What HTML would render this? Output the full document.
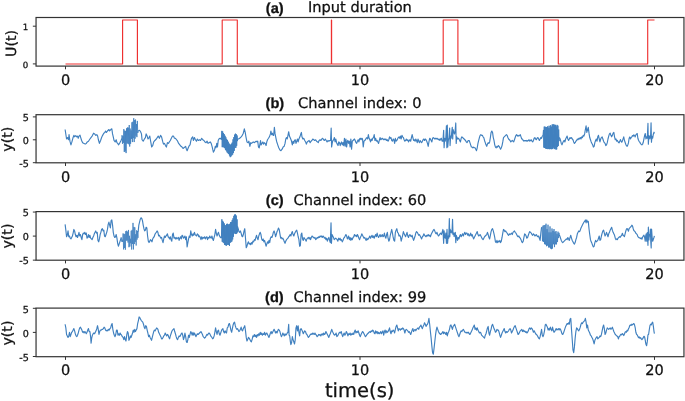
<!DOCTYPE html>
<html><head><meta charset="utf-8"><title>figure</title>
<style>html,body{margin:0;padding:0;background:#fff;}svg{display:block;}text{stroke:#111;stroke-width:0.28px;text-rendering:geometricPrecision;}</style>
</head><body>
<svg width="685" height="401" viewBox="0 0 685 401" font-family="'DejaVu Sans', 'Liberation Sans', sans-serif" fill="#111"><clipPath id="clipa"><rect x="36.05" y="17.5" width="647.9" height="48.6"/></clipPath>
<polyline clip-path="url(#clipa)" points="65.50,63.95 122.60,63.95 122.60,20.00 137.40,20.00 137.40,63.95 222.20,63.95 222.20,20.00 237.30,20.00 237.30,63.95 331.40,63.95 331.40,20.00 331.60,20.00 331.60,63.95 443.20,63.95 443.20,20.00 457.90,20.00 457.90,63.95 543.70,63.95 543.70,20.00 558.30,20.00 558.30,63.95 647.70,63.95 647.70,20.00 654.50,20.00" fill="none" stroke="#ee3030" stroke-width="1.15" stroke-linejoin="round"/>
<rect x="36.05" y="17.5" width="647.9" height="48.6" fill="none" stroke="#333" stroke-width="1.2"/>
<line x1="65.5" y1="66.1" x2="65.5" y2="69.3" stroke="#333" stroke-width="1"/>
<text x="65.5" y="84.8" font-size="14.5" font-family="'DejaVu Sans', sans-serif" text-anchor="middle">0</text>
<line x1="360" y1="66.1" x2="360" y2="69.3" stroke="#333" stroke-width="1"/>
<text x="360" y="84.8" font-size="14.5" font-family="'DejaVu Sans', sans-serif" text-anchor="middle">10</text>
<line x1="654.5" y1="66.1" x2="654.5" y2="69.3" stroke="#333" stroke-width="1"/>
<text x="654.5" y="84.8" font-size="14.5" font-family="'DejaVu Sans', sans-serif" text-anchor="middle">20</text>
<line x1="32.85" y1="63.9" x2="36.05" y2="63.9" stroke="#333" stroke-width="1"/>
<text x="28.3" y="67.74" font-size="8.6" text-anchor="end">0</text>
<line x1="32.85" y1="26.2" x2="36.05" y2="26.2" stroke="#333" stroke-width="1"/>
<text x="28.3" y="30.04" font-size="8.6" text-anchor="end">1</text>
<text transform="translate(15.8,43.45) rotate(-90)" font-size="14.2" text-anchor="middle">U(t)</text>
<text x="265.8" y="12.8" font-size="14.6" font-weight="bold" font-family="Liberation Sans, sans-serif">(a)</text>
<text x="308" y="11.7" font-size="14.6">Input duration</text>
<clipPath id="clipb"><rect x="36.05" y="114.7" width="647.9" height="48.1"/></clipPath>
<polyline clip-path="url(#clipb)" points="65.11,129.52 66.57,139.01 67.59,137.55 68.47,139.74 69.05,134.63 69.93,141.20 70.95,144.85 71.68,142.66 72.85,138.28 73.87,135.36 74.60,136.82 75.77,135.65 76.79,136.82 77.52,136.09 78.25,138.28 78.98,136.09 80.00,135.07 80.73,137.55 81.61,140.47 82.63,142.66 84.09,143.39 85.11,144.12 86.28,143.39 87.30,141.93 88.47,141.20 89.93,139.01 90.95,137.55 92.12,136.09 93.58,133.17 94.60,133.90 95.77,135.36 96.79,134.63 97.66,136.09 98.39,139.74 99.42,143.39 100.58,140.47 101.61,137.55 102.63,135.36 103.80,133.17 104.82,132.44 105.55,130.98 106.42,132.44 107.45,130.98 108.91,129.52 109.64,130.98 110.80,129.52 111.82,128.79 112.55,133.90 113.28,136.82 114.01,140.47 115.18,141.93 116.20,139.74 116.93,142.66 117.66,143.39 118.69,144.85 119.85,142.66 121.02,140.47 122.04,138.28" fill="none" stroke="#4080bf" stroke-width="1.15" stroke-linejoin="round"/>
<polyline clip-path="url(#clipb)" points="138.10,130.98 139.56,130.25 140.58,131.71 141.46,133.90 142.04,139.74 143.21,141.20 144.38,139.01 145.40,137.55 146.13,133.90 147.15,136.09 148.03,139.01 149.05,137.55 149.78,136.09 150.51,140.47 151.68,147.04 152.70,145.58 153.72,141.93 154.89,140.47 156.35,139.01 158.21,136.09 159.38,138.28 160.55,135.36 161.57,136.82 162.59,141.20 163.47,144.12 164.49,143.39 165.51,145.58 166.39,147.04 167.41,142.66 168.43,143.39 169.31,141.93 170.33,140.47 171.35,138.28 172.52,136.09 173.54,136.09 174.42,138.28 175.44,138.28 176.61,139.74 177.63,141.20 178.65,143.39 179.82,144.85 180.99,146.31 182.01,147.04 183.03,148.50 183.91,147.77 184.93,147.04 185.66,146.31 186.39,149.23 187.12,150.69 188.28,147.77 189.31,145.58 190.04,144.85 190.77,141.20 191.50,138.28 192.66,136.82 193.39,140.47 194.42,137.55 195.44,139.74 196.46,141.20 197.34,139.01 198.36,140.47 199.53,139.74 200.55,140.47 201.72,138.28 202.74,139.74 203.91,140.47 204.93,141.93 206.09,142.66 207.12,141.20 207.99,143.39 209.01,142.66 210.18,141.93 211.20,143.39 212.23,147.04 213.39,152.15 214.56,149.96 215.29,146.31 216.02,147.77 216.75,143.39 217.48,147.04 218.21,140.47 218.94,139.01 219.96,138.28 220.69,138.28 221.42,139.74" fill="none" stroke="#4080bf" stroke-width="1.15" stroke-linejoin="round"/>
<polyline clip-path="url(#clipb)" points="237.48,139.01 238.50,139.01 239.67,138.28 241.13,136.82 242.30,135.36 243.32,133.17 244.34,128.79 245.22,132.44 245.95,136.82 246.97,141.93 248.14,142.66 248.87,141.20 249.89,146.31 250.77,142.66 251.64,143.39 253.21,141.93 254.09,142.66 255.11,141.93 256.13,141.20 257.01,141.93 257.74,141.20 258.47,147.04 259.20,147.77 259.93,144.12 260.51,140.47 261.09,144.85 261.97,143.39 262.85,141.93 263.58,144.12 264.31,142.66 265.18,143.39 266.06,145.58 266.79,141.93 267.52,139.74 268.54,138.28 269.42,136.82 270.44,133.90 270.88,130.98 271.61,134.63 272.34,133.17 273.07,135.36 273.65,135.36 274.38,127.33 275.11,133.90 275.84,137.55 276.57,141.20 277.74,144.85 278.76,147.77 279.93,149.96 280.95,150.69 282.12,149.23 283.14,147.04 284.16,146.31 285.04,143.39 285.77,139.01 286.50,137.55 287.23,139.01 287.96,135.36 288.69,131.71 289.42,136.09 290.44,138.28 291.31,140.47 292.34,144.85 293.07,141.20 293.80,143.39 294.53,140.47 295.26,139.74 295.99,143.39 296.72,141.20 297.45,139.01 298.18,141.93 298.91,139.01 299.93,136.82 300.80,133.90 301.39,132.44 301.97,136.82 302.85,139.01 303.72,138.28 304.74,140.47 305.62,141.93 306.35,144.12 307.23,141.93 308.10,141.20 309.12,140.47 310.15,142.66 311.02,141.20 311.90,140.47 312.77,139.01 313.80,139.74 314.67,140.47 315.69,139.74 316.57,141.20 317.59,141.93 318.32,142.66 319.05,140.47 320.07,139.74 320.95,140.47 321.82,139.01 322.70,138.28 323.58,139.74 324.45,140.47 325.33,139.01 326.20,140.47 327.08,141.93 327.96,140.47 328.83,141.20 329.71,140.47 330.58,140.47 331.17,128.06 331.61,147.04 332.19,143.39 332.92,140.47 333.65,139.74 334.38,137.55 335.11,141.93 335.84,139.01 336.57,142.66 337.30,144.12 338.03,145.58 338.76,141.93 339.49,142.66 340.22,145.58 340.80,143.39 341.53,141.93 342.26,144.85 342.99,142.66 343.72,145.58 344.45,138.28 345.18,146.31 345.91,139.01 346.64,147.04 347.37,141.20 347.92,140.47 348.65,143.39 349.38,141.20 350.11,147.04 350.84,139.01 351.57,149.23 352.30,141.20 353.03,140.47 353.76,139.74 354.49,139.01 355.22,140.47 355.95,142.66 356.68,143.39 357.41,141.20 358.14,139.74 358.87,141.93 359.60,139.01 360.33,138.28 361.06,139.74 361.79,138.28 362.52,139.01 363.25,147.04 363.98,141.20 364.71,140.47 365.44,139.74 366.17,138.28 366.90,137.55 367.63,139.01 368.36,134.63 369.09,138.28 369.82,139.74 370.55,141.93 371.28,139.01 372.01,140.47 372.74,138.28 373.47,137.55 374.20,134.63 374.93,140.47 375.66,138.28 376.39,141.20 377.12,140.47 377.85,141.93 378.58,143.39 379.31,140.47 380.04,137.55 380.77,139.74 381.50,139.01 382.23,138.28 382.96,139.01 383.69,139.74 384.42,139.01 385.15,139.74 385.88,139.01 386.61,140.47 387.34,139.74 388.07,141.20 388.80,139.74 389.53,136.82 390.26,138.28 390.99,137.55 391.72,140.47 392.45,141.20 393.18,139.01 393.91,139.74 394.64,143.39 395.36,138.28 396.09,141.20 396.82,140.47 397.55,139.01 398.28,137.55 399.01,136.82 399.74,138.28 400.47,136.09 401.20,139.01 401.93,135.36 402.66,136.82 403.39,137.55 404.12,139.74 404.85,141.20 405.58,140.47 406.31,139.01 407.04,140.47 407.77,139.74 408.50,141.93 409.23,140.47 409.96,139.74 410.69,141.20 411.42,137.55 412.15,134.63 412.88,137.55 413.61,140.47 414.34,139.74 415.07,141.20 415.80,139.01 416.53,140.47 417.26,142.66 417.99,139.01 418.72,141.20 419.45,142.66 420.18,140.47 420.91,141.93 421.64,142.66 422.37,141.20 423.10,139.74 423.83,139.01 424.56,140.47 425.29,139.01 426.02,139.74 426.75,141.20 427.48,143.39 428.21,146.31 428.94,141.93 429.67,138.28 430.40,139.01 431.13,140.47 431.86,141.93 432.59,138.28 433.32,137.55 434.05,138.28 434.78,139.01 435.51,138.28 436.24,139.01 436.97,138.28 437.70,139.01 438.43,139.74 439.16,139.01 439.89,140.47 440.62,139.01 441.35,138.28 442.08,141.20 442.92,141.20 443.65,130.25 444.09,147.77 444.67,138.28 445.26,141.20 445.84,137.55 446.42,125.87 446.86,147.77 447.30,125.14 447.74,147.04 448.32,140.47 449.05,137.55 449.64,128.06 450.07,145.58 450.66,136.09 451.24,138.28 451.68,132.44 452.26,127.33 452.70,139.01 453.14,129.52 453.87,132.44 454.60,133.90 455.18,130.25 455.77,122.95 456.20,143.39 456.79,136.82 457.52,139.01 458.25,138.28 458.98,139.01 459.71,140.47 460.44,141.93 461.17,138.28 461.90,136.82 462.63,137.55 463.36,138.28 464.09,139.01 464.82,139.74 465.55,140.47 466.28,141.93 467.01,142.66 467.74,141.20 468.47,140.47 469.20,140.47 469.93,142.66 470.66,144.85 471.39,147.04 472.12,147.04 472.85,147.77 473.58,147.04 474.31,147.77 475.04,147.77 475.77,149.23 476.50,150.69 477.23,147.77 477.96,143.39 478.69,140.47 479.42,137.55 480.15,135.36 480.88,134.63 481.61,135.36 482.34,135.36 483.07,136.82 483.80,137.55 484.53,140.47 485.26,142.66 485.99,144.85 486.72,146.31 487.45,144.12 488.18,142.66 488.91,143.39 489.64,141.93 490.36,137.55 491.09,132.44 491.82,130.98 492.55,132.44 493.28,137.55 494.01,140.47 494.74,144.85 495.47,147.04 496.20,147.77 496.93,146.31 497.66,147.04 498.39,145.58 499.12,146.31 499.85,147.77 500.58,149.23 501.31,147.77 502.04,145.58 502.77,141.93 503.50,137.55 504.23,136.82 504.96,136.09 505.69,135.36 506.42,134.63 507.15,135.36 507.88,137.55 508.61,139.01 509.34,139.74 510.07,140.47 510.80,141.93 511.53,141.20 512.26,140.47 512.99,141.20 513.72,141.93 514.45,139.74 515.18,137.55 515.91,135.36 516.64,134.63 517.37,136.09 518.10,135.36 518.83,136.09 519.56,135.36 520.29,134.63 521.02,136.82 521.75,139.01 522.48,139.01 523.21,140.47 523.94,141.20 524.67,140.47 525.40,140.47 526.13,141.20 526.86,140.47 527.59,141.20 528.32,140.47 529.05,139.74 529.78,141.20 530.51,140.47 531.24,139.74 531.97,141.20 532.70,141.93 533.43,140.47 534.16,138.28 534.89,137.55 535.62,139.01 536.35,139.74 537.08,138.28 537.92,137.55 538.65,139.01 539.38,140.47 540.11,139.01 540.84,137.55 541.57,138.28 542.30,136.09 543.03,135.36" fill="none" stroke="#4080bf" stroke-width="1.15" stroke-linejoin="round"/>
<polyline clip-path="url(#clipb)" points="559.09,137.55 559.82,138.28 560.55,140.47 561.28,143.39 562.01,144.85 562.74,142.66 563.47,141.20 564.20,140.47 564.93,141.93 565.66,139.01 566.39,137.55 567.12,136.09 567.85,139.01 568.58,140.47 569.31,139.01 570.04,137.55 570.77,138.28 571.50,137.55 572.23,139.01 572.96,139.74 573.69,141.93 574.42,143.39 575.15,142.66 575.88,141.20 576.61,140.47 577.34,139.01 578.07,139.74 578.80,138.28 579.53,139.01 580.26,137.55 580.99,139.01 581.72,136.82 582.45,137.55 583.18,135.36 583.91,136.09 584.64,133.90 585.36,129.52 586.09,125.87 586.82,132.44 587.55,129.52 588.28,127.33 589.01,133.17 589.74,137.55 590.47,139.74 591.20,141.93 591.93,143.39 592.66,144.85 593.39,147.04 594.12,146.31 594.85,142.66 595.58,140.47 596.31,139.01 597.04,141.20 597.77,136.82 598.50,135.36 599.23,139.01 599.96,141.93 600.69,139.01 601.42,137.55 602.15,136.82 602.88,139.01 603.61,141.20 604.34,142.66 605.07,143.39 605.80,145.58 606.53,144.85 607.26,142.66 607.99,139.01 608.72,136.09 609.45,133.90 610.18,133.17 610.91,135.36 611.64,136.82 612.37,135.36 613.10,133.17 613.83,132.44 614.56,136.82 615.29,139.74 616.02,139.01 616.75,141.20 617.48,140.47 617.69,140.93 618.36,142.27 619.04,142.94 619.71,141.60 620.38,139.58 621.05,140.93 621.73,142.27 622.40,140.93 623.07,138.91 623.74,136.89 624.42,140.25 625.09,142.27 625.76,144.29 626.44,145.63 627.11,146.31 627.78,144.96 628.45,142.94 629.13,138.23 629.80,136.89 630.47,138.91 631.14,137.56 631.82,136.89 632.49,135.54 633.16,136.22 633.83,134.87 634.51,135.54 635.18,136.89 635.85,134.87 636.53,134.20 637.20,133.53 637.87,138.23 638.54,140.25 639.22,141.60 639.89,142.27 640.56,143.62 641.23,144.29 641.91,144.96 642.58,144.29 643.25,142.27 643.93,138.91 644.60,135.54 645.27,133.53 645.94,138.91 646.62,136.89 647.29,138.23 647.96,123.44 648.36,144.29 648.90,135.54 649.58,136.89 649.98,138.91 650.65,134.87 651.06,122.76 651.46,142.27 652.00,136.22 652.67,138.23 653.34,134.20 654.02,132.18 654.42,133.53" fill="none" stroke="#4080bf" stroke-width="1.15" stroke-linejoin="round"/>
<polyline clip-path="url(#clipb)" points="122.04,138.28 122.04,135.22 122.49,143.81 122.94,136.13 123.39,142.80 123.84,129.14 124.29,151.92 124.74,130.61 125.19,151.40 125.64,130.94 126.09,153.08 126.54,128.31 126.99,143.59 127.44,127.48 127.89,143.41 128.34,127.67 128.79,144.24 129.24,125.02 129.69,146.52 130.14,128.54 130.59,143.78 131.04,130.39 131.49,138.89 131.94,122.33 132.39,142.05 132.84,121.74 133.29,138.13 133.74,118.21 134.19,142.05 134.64,120.09 135.09,138.69 135.54,119.57 135.99,135.73 136.44,124.05 136.89,137.15 137.34,120.92 137.79,133.01 138.10,130.98" fill="none" stroke="#4080bf" stroke-width="0.85" stroke-linejoin="round"/>
<polyline clip-path="url(#clipb)" points="221.42,139.74 221.86,130.88 222.26,147.20 222.66,131.46 223.06,147.06 223.46,133.05 223.86,147.44 224.26,134.20 224.66,148.16 225.06,135.77 225.46,149.89 225.86,137.35 226.26,150.69 226.66,139.09 227.06,152.32 227.46,140.06 227.86,153.23 228.26,141.70 228.66,154.09 229.06,143.49 229.46,155.53 229.86,144.14 230.26,157.15 230.66,144.88 231.06,156.37 231.46,143.72 231.86,155.25 232.26,142.53 232.66,154.52 233.06,139.33 233.46,152.90 233.86,137.11 234.26,150.80 234.66,134.62 235.06,147.92 235.46,133.65 235.86,147.74 236.26,134.15 236.66,145.77 237.06,135.45 237.46,141.12 237.48,139.01" fill="none" stroke="#4080bf" stroke-width="1.0" stroke-linejoin="round"/>
<polyline clip-path="url(#clipb)" points="543.03,135.36 543.47,129.94 543.87,147.57 544.27,126.62 544.67,147.98 545.07,126.71 545.47,148.38 545.87,126.99 546.27,148.90 546.67,127.12 547.07,148.81 547.47,126.42 547.87,149.13 548.27,127.77 548.67,148.80 549.07,125.75 549.47,149.18 549.87,128.05 550.27,149.02 550.67,125.26 551.07,149.16 551.47,126.69 551.87,149.18 552.27,124.35 552.67,148.93 553.07,124.87 553.47,147.58 553.87,124.12 554.27,149.10 554.67,125.23 555.07,148.49 555.47,124.85 555.87,149.50 556.27,126.47 556.67,149.41 557.07,124.88 557.47,146.82 557.87,125.68 558.27,146.09 558.67,129.53 559.07,141.13 559.09,137.55" fill="none" stroke="#4080bf" stroke-width="1.0" stroke-linejoin="round"/>
<rect x="36.05" y="114.7" width="647.9" height="48.1" fill="none" stroke="#333" stroke-width="1.2"/>
<line x1="65.5" y1="162.8" x2="65.5" y2="166" stroke="#333" stroke-width="1"/>
<text x="65.5" y="181.5" font-size="14.5" font-family="'DejaVu Sans', sans-serif" text-anchor="middle">0</text>
<line x1="360" y1="162.8" x2="360" y2="166" stroke="#333" stroke-width="1"/>
<text x="360" y="181.5" font-size="14.5" font-family="'DejaVu Sans', sans-serif" text-anchor="middle">10</text>
<line x1="654.5" y1="162.8" x2="654.5" y2="166" stroke="#333" stroke-width="1"/>
<text x="654.5" y="181.5" font-size="14.5" font-family="'DejaVu Sans', sans-serif" text-anchor="middle">20</text>
<line x1="32.85" y1="162.7" x2="36.05" y2="162.7" stroke="#333" stroke-width="1"/>
<text x="28.8" y="166.94" font-size="9.6" text-anchor="end">-5</text>
<line x1="32.85" y1="139.8" x2="36.05" y2="139.8" stroke="#333" stroke-width="1"/>
<text x="28.8" y="144.04" font-size="9.6" text-anchor="end">0</text>
<line x1="32.85" y1="116.9" x2="36.05" y2="116.9" stroke="#333" stroke-width="1"/>
<text x="28.8" y="121.14" font-size="9.6" text-anchor="end">5</text>
<text transform="translate(12.3,139.2) rotate(-90)" font-size="14.2" text-anchor="middle">y(t)</text>
<text x="265.6" y="107.5" font-size="14.6" font-weight="bold" font-family="Liberation Sans, sans-serif">(b)</text>
<text x="298.1" y="108.1" font-size="14.6">Channel index: 0</text>
<clipPath id="clipc"><rect x="36.05" y="211.6" width="647.9" height="48.6"/></clipPath>
<polyline clip-path="url(#clipc)" points="65.11,224.33 65.84,230.17 66.57,236.74 67.30,235.28 68.03,230.90 68.76,236.74 69.49,236.01 70.22,238.20 70.95,238.93 71.68,237.47 72.41,236.01 73.14,233.09 73.87,229.44 74.60,230.90 75.33,234.55 76.06,236.74 76.79,235.28 77.52,237.47 78.25,235.28 78.98,232.36 79.71,236.01 80.44,234.55 81.17,237.47 81.90,239.66 82.63,234.55 83.36,233.09 84.09,233.82 84.82,232.36 85.55,234.55 86.28,233.09 87.01,238.20 87.74,237.47 88.47,234.55 89.20,237.47 89.93,235.28 90.66,238.20 91.39,238.93 92.12,239.66 92.85,237.47 93.58,236.01 94.31,233.82 95.04,232.36 95.77,230.90 96.50,233.09 97.23,232.36 97.96,240.39 98.69,241.85 99.42,238.93 100.15,234.55 100.88,232.36 101.61,229.44 102.34,228.71 103.07,230.90 103.80,230.17 104.53,236.01 105.26,236.74 105.99,234.55 106.72,232.36 107.45,229.44 108.18,224.33 108.91,222.14 109.64,225.06 110.36,227.98 111.09,220.68 111.82,219.95 112.55,225.06 113.28,232.36 114.01,236.01 114.74,237.47 115.47,236.74 116.20,234.55 116.93,238.20 117.66,243.31 118.39,246.23 119.12,244.04 119.85,241.85 120.58,239.66 121.31,237.47" fill="none" stroke="#4080bf" stroke-width="1.15" stroke-linejoin="round"/>
<polyline clip-path="url(#clipc)" points="138.10,232.36 138.83,225.06 139.56,222.14 140.29,219.22 141.02,217.76 141.75,218.49 142.48,220.68 143.21,225.06 143.94,228.71 144.67,230.90 145.40,230.17 146.13,227.25 146.86,227.98 147.59,236.01 148.32,241.12 149.05,242.58 149.78,241.12 150.51,239.66 151.24,240.39 151.97,241.85 152.70,238.93 153.43,237.47 154.16,236.74 154.89,234.55 155.62,233.09 156.35,232.36 157.08,230.90 157.92,232.36 158.65,236.01 159.38,235.28 160.11,236.74 160.84,238.20 161.57,237.47 162.30,240.39 163.03,242.58 163.76,238.93 164.49,236.01 165.22,237.47 165.95,236.01 166.68,235.28 167.41,233.82 168.14,236.74 168.87,237.47 169.60,238.93 170.33,236.74 171.06,239.66 171.79,241.12 172.52,234.55 173.25,233.09 173.98,238.20 174.71,237.47 175.44,238.93 176.17,237.47 176.90,238.93 177.63,238.20 178.36,237.47 179.09,240.39 179.82,238.20 180.55,236.74 181.28,238.93 182.01,235.28 182.74,236.01 183.47,238.20 184.20,237.47 184.93,236.01 185.66,239.66 186.39,236.74 187.12,246.96 187.85,242.58 188.58,238.93 189.31,236.01 190.04,237.47 190.77,230.90 191.50,234.55 192.23,236.01 192.96,233.82 193.69,235.28 194.42,232.36 195.15,234.55 195.88,235.28 196.61,236.01 197.34,233.82 198.07,234.55 198.80,236.74 199.53,236.01 200.26,237.47 200.99,239.66 201.72,236.74 202.45,238.93 203.18,237.47 203.91,238.20 204.64,236.74 205.36,238.93 206.09,237.47 206.82,236.74 207.55,239.66 208.28,237.47 209.01,238.20 209.74,236.01 210.47,237.47 211.20,238.20 211.93,236.01 212.66,238.93 213.39,240.39 214.12,237.47 214.85,234.55 215.58,229.44 216.31,233.09 217.04,236.01 217.77,233.82 218.50,232.36 219.23,235.28 219.96,236.74 220.69,237.47 221.42,238.20" fill="none" stroke="#4080bf" stroke-width="1.15" stroke-linejoin="round"/>
<polyline clip-path="url(#clipc)" points="237.48,226.52 238.21,228.71 238.94,231.63 239.67,232.36 240.40,230.90 241.13,233.09 241.86,236.01 242.59,236.74 243.32,234.55 244.05,230.90 244.78,228.71 245.51,238.20 246.24,247.69 246.97,246.23 247.70,243.31 248.43,241.85 249.16,244.04 249.89,243.31 250.62,244.77 251.35,242.58 252.08,244.04 252.92,241.12 253.65,241.85 254.38,239.66 255.11,240.39 255.84,237.47 256.57,235.28 257.30,238.20 258.03,239.66 258.76,236.01 259.49,233.82 260.22,232.36 260.95,234.55 261.68,238.93 262.41,240.39 263.14,238.93 263.87,241.85 264.60,240.39 265.33,243.31 266.06,246.23 266.79,244.04 267.52,241.85 268.25,243.31 268.98,240.39 269.71,242.58 270.44,238.20 271.17,236.74 271.90,237.47 272.63,235.28 273.36,232.36 274.09,230.90 274.82,233.09 275.55,236.74 276.28,234.55 277.01,231.63 277.74,230.17 278.47,227.98 279.20,229.44 279.93,233.82 280.66,238.20 281.39,237.47 282.12,238.93 282.85,238.20 283.58,239.66 284.31,241.85 285.04,243.31 285.77,241.12 286.50,239.66 287.23,238.93 287.96,238.20 288.69,236.74 289.42,236.01 290.15,234.55 290.88,236.01 291.61,233.09 292.34,231.63 293.07,234.55 293.80,236.01 294.53,233.82 295.26,232.36 295.99,230.90 296.72,230.17 297.45,233.09 298.18,236.74 298.91,239.66 299.64,246.23 300.36,245.50 301.09,234.55 301.82,233.09 302.55,238.93 303.28,240.39 304.01,237.47 304.74,238.93 305.47,239.66 306.20,241.12 306.93,238.93 307.66,238.20 308.39,237.47 309.12,238.93 309.85,237.47 310.58,239.66 311.31,237.47 312.04,236.01 312.77,236.74 313.50,237.47 314.23,238.20 314.96,237.47 315.69,239.66 316.42,238.93 317.15,237.47 317.88,238.20 318.61,236.74 319.34,237.47 320.07,236.01 320.80,236.74 321.53,236.01 322.26,237.47 322.99,236.01 323.72,236.74 324.45,238.20 325.18,237.47 325.91,239.66 326.64,238.20 327.37,241.12 328.10,238.93 328.83,237.47 329.56,240.39 330.29,242.58 331.02,222.87 331.46,243.31 332.04,234.55 332.77,236.01 333.50,237.47 334.23,239.66 334.96,238.93 335.69,238.20 336.42,238.93 337.15,239.66 337.88,241.12 338.61,238.20 339.34,239.66 340.07,238.20 340.80,240.39 341.53,239.66 342.26,241.85 342.99,240.39 343.72,238.20 344.45,237.47 345.18,236.01 345.91,234.55 346.64,236.01 347.37,238.93 347.92,238.20 348.65,236.01 349.38,239.66 350.11,237.47 350.84,240.39 351.57,238.20 352.30,239.66 353.03,237.47 353.76,236.74 354.49,234.55 355.22,236.01 355.95,235.28 356.68,236.74 357.41,234.55 358.14,236.01 358.87,238.20 359.60,239.66 360.33,237.47 361.06,236.01 361.79,233.82 362.52,235.28 363.25,236.74 363.98,238.20 364.71,237.47 365.44,238.93 366.17,240.39 366.90,238.20 367.63,239.66 368.36,238.93 369.09,237.47 369.82,236.01 370.55,238.20 371.28,236.74 372.01,235.28 372.74,237.47 373.47,236.01 374.20,238.20 374.93,236.01 375.66,234.55 376.39,236.74 377.12,233.09 377.85,236.01 378.58,237.47 379.31,236.01 380.04,234.55 380.77,236.74 381.50,236.01 382.23,234.55 382.96,236.74 383.69,236.01 384.42,233.09 385.15,236.74 385.88,238.20 386.61,234.55 387.34,232.36 388.07,238.20 388.80,241.12 389.53,239.66 390.26,235.28 390.99,232.36 391.72,229.44 392.45,233.09 393.18,237.47 393.91,240.39 394.64,241.12 395.36,232.36 396.09,230.17 396.82,228.71 397.55,232.36 398.28,233.09 399.01,236.01 399.74,235.28 400.47,236.74 401.20,241.12 401.93,238.20 402.66,235.28 403.39,231.63 404.12,233.82 404.85,235.28 405.58,236.74 406.31,234.55 407.04,232.36 407.77,236.01 408.50,237.47 409.23,235.28 409.96,234.55 410.69,236.01 411.42,236.74 412.15,235.28 412.88,238.20 413.61,240.39 414.34,238.20 415.07,236.01 415.80,233.09 416.53,231.63 417.26,232.36 417.99,233.82 418.72,235.28 419.45,234.55 420.18,236.01 420.91,237.47 421.64,238.93 422.37,236.74 423.10,236.01 423.83,233.82 424.56,235.28 425.29,236.01 426.02,236.74 426.75,235.28 427.48,236.01 428.21,234.55 428.94,236.01 429.67,235.28 430.40,236.74 431.13,234.55 431.86,233.09 432.59,231.63 433.32,230.17 434.05,229.44 434.78,230.90 435.51,233.09 436.24,233.82 436.97,232.36 437.70,234.55 438.43,236.01 439.16,235.28 439.89,233.82 440.62,233.09 441.35,234.55 442.08,232.36 442.92,229.44 443.65,243.31 444.09,230.90 444.67,236.74 445.26,238.20 445.84,233.09 446.42,243.31 447.01,229.44 447.59,243.31 448.18,236.01 448.76,238.20 449.34,218.49 449.78,236.74 450.22,229.44 450.80,232.36 451.39,230.90 451.97,233.09 452.55,219.22 452.99,234.55 453.58,233.09 454.16,236.74 454.74,233.09 455.33,232.36 455.77,242.58 456.35,235.28 456.93,237.47 457.52,240.39 458.25,237.47 458.98,238.93 459.71,236.01 460.44,234.55 461.17,236.74 461.90,235.28 462.63,233.82 463.36,236.01 464.09,233.82 464.82,232.36 465.55,234.55 466.28,233.09 467.01,233.09 467.74,235.28 468.47,233.82 469.20,236.01 469.93,235.28 470.66,233.09 471.39,236.01 472.12,234.55 472.85,236.74 473.58,238.93 474.31,237.47 475.04,236.01 475.77,234.55 476.50,233.09 477.23,231.63 477.96,234.55 478.69,236.01 479.42,235.28 480.15,234.55 480.88,236.01 481.61,237.47 482.34,238.93 483.07,239.66 483.80,238.20 484.53,236.74 485.26,236.01 485.99,235.28 486.72,234.55 487.45,232.36 488.18,234.55 488.91,237.47 489.64,238.93 490.36,235.28 491.09,231.63 491.82,229.44 492.55,228.71 493.28,230.90 494.01,233.82 494.74,237.47 495.47,241.85 496.20,242.58 496.93,240.39 497.66,242.58 498.39,241.12 499.12,241.85 499.85,240.39 500.58,242.58 501.31,241.12 502.04,237.47 502.77,233.09 503.50,229.44 504.23,230.17 504.96,231.63 505.69,230.90 506.42,232.36 507.15,233.09 507.88,234.55 508.61,235.28 509.34,233.82 510.07,234.55 510.80,233.82 511.53,233.09 512.26,234.55 512.99,232.36 513.72,231.63 514.45,230.90 515.18,232.36 515.91,233.09 516.64,234.55 517.37,236.01 518.10,236.74 518.83,236.01 519.56,237.47 520.29,238.20 521.02,239.66 521.75,241.85 522.48,242.58 523.21,241.12 523.94,237.47 524.67,233.82 525.40,234.55 526.13,236.01 526.86,238.20 527.59,237.47 528.32,235.28 529.05,233.09 529.78,231.63 530.51,232.36 531.24,233.09 531.97,234.55 532.70,235.28 533.43,233.82 534.16,234.55 534.89,236.01 535.62,235.28 536.35,234.55 537.08,236.01 537.92,236.74 538.65,236.01 539.38,238.20 540.11,240.39 540.84,233.09 541.57,227.25" fill="none" stroke="#4080bf" stroke-width="1.15" stroke-linejoin="round"/>
<polyline clip-path="url(#clipc)" points="559.09,234.55 559.82,236.01 560.55,238.20 561.28,240.39 562.01,241.85 562.74,242.58 563.47,241.85 564.20,241.12 564.93,240.39 565.66,239.66 566.39,238.93 567.12,239.66 567.85,237.47 568.58,238.93 569.31,240.39 570.04,237.47 570.77,235.28 571.50,238.20 572.23,240.39 572.96,241.85 573.69,243.31 574.42,244.04 575.15,242.58 575.88,239.66 576.61,237.47 577.34,233.82 578.07,232.36 578.80,230.90 579.53,231.63 580.26,230.17 580.99,227.98 581.72,226.52 582.45,225.06 583.18,223.60 583.91,222.14 584.64,221.41 585.36,219.95 586.09,222.87 586.82,219.95 587.55,222.14 588.28,221.41 589.01,228.71 589.74,234.55 590.47,239.66 591.20,241.85 591.93,243.31 592.66,245.50 593.39,246.96 594.12,246.23 594.85,242.58 595.58,240.39 596.31,241.85 597.04,241.12 597.77,240.39 598.50,238.20 599.23,236.01 599.96,240.39 600.69,239.66 601.42,236.01 602.15,233.09 602.88,230.90 603.61,230.17 604.34,233.09 605.07,236.01 605.80,234.55 606.53,232.36 607.26,234.55 607.99,236.74 608.72,233.82 609.45,232.36 610.18,230.17 610.91,228.71 611.64,227.25 612.37,230.17 613.10,232.36 613.83,233.82 614.56,235.28 615.29,238.20 616.02,239.66 616.75,238.93 617.48,239.66 617.69,238.60 618.36,237.93 619.04,237.25 619.71,236.58 620.38,237.25 621.05,235.91 621.73,235.23 622.40,233.22 623.07,235.23 623.74,235.91 624.42,236.58 625.09,233.89 625.76,231.20 626.44,229.18 627.11,228.51 627.78,229.85 628.45,231.20 629.13,228.51 629.80,227.83 630.47,227.16 631.14,226.49 631.82,225.14 632.49,225.82 633.16,228.51 633.83,230.53 634.51,231.20 635.18,231.87 635.85,233.22 636.53,233.89 637.20,234.56 637.87,236.58 638.54,237.25 639.22,237.93 639.89,237.93 640.56,238.60 641.23,237.93 641.91,239.27 642.58,237.25 643.25,235.91 643.93,235.23 644.60,237.25 645.27,241.29 645.67,235.91 646.21,233.89 646.75,241.29 647.29,232.54 647.96,245.32 648.36,227.16 648.90,239.94 649.44,234.56 649.98,235.91 650.38,229.18 650.79,241.96 651.19,248.02 651.59,229.18 652.13,237.25 652.67,241.29 653.34,239.27 654.02,237.25 654.42,235.91" fill="none" stroke="#4080bf" stroke-width="1.15" stroke-linejoin="round"/>
<polyline clip-path="url(#clipc)" points="121.31,237.47 121.31,237.69 121.76,241.72 122.21,239.66 122.66,241.96 123.11,233.42 123.56,249.40 124.01,234.17 124.46,247.96 124.91,233.83 125.36,249.73 125.81,231.15 126.26,240.63 126.71,230.72 127.16,240.58 127.61,231.66 128.06,242.56 128.51,229.94 128.96,247.23 129.41,235.78 129.86,246.52 130.31,238.75 130.76,243.22 131.21,230.78 131.66,249.52 132.11,229.87 132.56,243.99 133.01,222.91 133.46,249.43 133.91,226.93 134.36,244.04 134.81,227.34 135.26,241.87 135.71,234.23 136.16,245.50 136.61,230.31 137.06,239.64 137.51,231.03 137.96,237.85 138.10,232.36" fill="none" stroke="#4080bf" stroke-width="0.8" stroke-linejoin="round"/>
<polyline clip-path="url(#clipc)" points="221.42,238.20 221.86,219.32 222.26,241.75 222.66,220.92 223.06,242.34 223.46,221.87 223.86,243.11 224.26,223.42 224.66,244.93 225.06,225.01 225.46,245.11 225.86,225.58 226.26,245.84 226.66,223.92 227.06,245.03 227.46,223.78 227.86,244.68 228.26,224.69 228.66,244.83 229.06,224.02 229.46,245.90 229.86,223.77 230.26,242.76 230.66,222.12 231.06,242.13 231.46,221.87 231.86,241.46 232.26,219.94 232.66,239.46 233.06,218.26 233.46,236.68 233.86,215.82 234.26,233.12 234.66,214.54 235.06,233.95 235.46,214.49 235.86,234.05 236.26,215.55 236.66,233.67 237.06,219.36 237.46,232.42 237.48,226.52" fill="none" stroke="#4080bf" stroke-width="1.0" stroke-linejoin="round"/>
<polyline clip-path="url(#clipc)" points="541.57,227.25 542.01,227.00 542.51,241.27 543.01,225.68 543.51,241.90 544.01,225.19 544.51,244.18 545.01,225.02 545.51,244.52 546.01,223.70 546.51,246.20 547.01,229.18 547.51,245.57 548.01,224.72 548.51,247.41 549.01,232.37 549.51,247.42 550.01,226.40 550.51,248.50 551.01,232.36 551.51,249.17 552.01,228.50 552.51,248.56 553.01,230.84 553.51,244.22 554.01,229.05 554.51,247.11 555.01,231.82 555.51,244.32 556.01,231.05 556.51,244.38 557.01,233.72 557.51,242.04 558.01,231.65 558.51,238.09 559.01,232.81 559.09,234.55" fill="none" stroke="#4080bf" stroke-width="0.85" stroke-linejoin="round"/>
<rect x="36.05" y="211.6" width="647.9" height="48.6" fill="none" stroke="#333" stroke-width="1.2"/>
<line x1="65.5" y1="260.2" x2="65.5" y2="263.4" stroke="#333" stroke-width="1"/>
<text x="65.5" y="278.9" font-size="14.5" font-family="'DejaVu Sans', sans-serif" text-anchor="middle">0</text>
<line x1="360" y1="260.2" x2="360" y2="263.4" stroke="#333" stroke-width="1"/>
<text x="360" y="278.9" font-size="14.5" font-family="'DejaVu Sans', sans-serif" text-anchor="middle">10</text>
<line x1="654.5" y1="260.2" x2="654.5" y2="263.4" stroke="#333" stroke-width="1"/>
<text x="654.5" y="278.9" font-size="14.5" font-family="'DejaVu Sans', sans-serif" text-anchor="middle">20</text>
<line x1="32.85" y1="260.15" x2="36.05" y2="260.15" stroke="#333" stroke-width="1"/>
<text x="28.8" y="264.39" font-size="9.6" text-anchor="end">-5</text>
<line x1="32.85" y1="236.1" x2="36.05" y2="236.1" stroke="#333" stroke-width="1"/>
<text x="28.8" y="240.34" font-size="9.6" text-anchor="end">0</text>
<line x1="32.85" y1="212.05" x2="36.05" y2="212.05" stroke="#333" stroke-width="1"/>
<text x="28.8" y="216.29" font-size="9.6" text-anchor="end">5</text>
<text transform="translate(12.3,236.05) rotate(-90)" font-size="14.2" text-anchor="middle">y(t)</text>
<text x="265.8" y="204.8" font-size="14.6" font-weight="bold" font-family="Liberation Sans, sans-serif">(c)</text>
<text x="293.6" y="204.8" font-size="14.6">Channel index: 60</text>
<clipPath id="clipd"><rect x="36.05" y="308.1" width="647.9" height="48.6"/></clipPath>
<polyline clip-path="url(#clipd)" points="65.11,324.25 65.84,327.90 66.57,334.47 67.30,335.93 68.03,337.39 68.76,335.93 69.49,332.28 70.22,336.66 70.95,334.47 71.68,332.28 72.41,331.55 73.14,330.09 73.87,328.63 74.60,330.82 75.33,333.74 76.06,335.93 76.79,336.66 77.52,335.20 78.25,333.01 78.98,330.09 79.71,327.90 80.44,327.17 81.17,328.63 81.90,330.09 82.63,332.28 83.36,331.55 84.09,333.01 84.82,331.55 85.55,332.28 86.28,333.74 87.01,332.28 87.74,330.09 88.47,328.63 89.20,331.55 89.93,331.55 90.66,337.39 91.09,343.23 91.68,338.12 92.41,335.20 93.14,333.74 93.87,333.01 94.60,333.74 95.33,332.28 96.06,330.82 96.79,328.63 97.52,325.71 98.25,329.36 98.98,334.47 99.71,331.55 100.44,330.09 101.17,330.09 101.90,329.36 102.63,329.36 103.36,328.63 104.09,327.17 104.82,327.90 105.55,330.09 106.28,330.82 107.01,330.09 107.74,330.82 108.47,329.36 109.20,330.09 109.93,328.63 110.66,327.90 111.39,324.98 112.12,323.52 112.85,329.36 113.58,333.01 114.31,335.20 115.04,336.66 115.77,334.47 116.50,330.09 117.23,330.09 117.96,335.20 118.69,333.74 119.42,335.20 120.15,333.01 120.88,334.47 121.61,335.20 122.34,336.66 123.07,337.39 123.80,339.58 124.53,336.66 125.26,339.58 125.99,341.04 126.72,335.20 127.45,331.55 128.18,333.01 128.91,340.31 129.64,338.85 130.36,335.93 131.09,337.39 131.82,335.20 132.55,333.01 133.28,330.09 134.01,332.28 134.74,329.36 135.47,331.55 136.20,330.09 136.93,328.63 137.66,323.52 138.39,320.60 139.12,316.95 139.85,317.68 140.58,319.14 141.31,320.60 142.04,321.33 142.77,322.06 143.50,324.25 144.23,327.17 144.96,328.63 145.69,325.71 146.42,326.44 147.15,330.09 147.88,333.01 148.61,336.66 149.34,335.20 150.07,337.39 150.80,338.85 151.53,340.31 152.26,337.39 152.99,334.47 153.72,331.55 154.45,330.09 155.18,330.82 155.91,329.36 156.64,327.90 157.37,328.63 157.92,329.36 158.65,332.28 159.38,333.74 160.11,335.20 160.84,336.66 161.57,338.85 162.30,338.85 163.03,337.39 163.76,335.93 164.49,335.20 165.22,333.01 165.95,334.47 166.68,335.93 167.41,334.47 168.14,335.20 168.87,337.39 169.60,338.85 170.33,335.93 171.06,333.74 171.79,331.55 172.52,330.09 173.25,329.36 173.98,328.63 174.71,331.55 175.44,333.74 176.17,336.66 176.90,338.85 177.63,339.58 178.36,337.39 179.09,335.93 179.82,336.66 180.55,335.20 181.28,333.74 182.01,333.01 182.74,335.20 183.47,339.58 184.20,337.39 184.93,333.01 185.66,336.66 186.39,341.77 187.12,342.50 187.85,339.58 188.58,335.20 189.31,337.39 190.04,334.47 190.77,331.55 191.50,333.01 192.23,335.20 192.96,332.28 193.69,335.20 194.42,333.01 195.15,334.47 195.88,336.66 196.61,335.20 197.34,333.74 198.07,334.47 198.80,333.74 199.53,333.01 200.26,332.28 200.99,331.55 201.72,333.01 202.45,334.47 203.18,336.66 203.91,337.39 204.64,338.12 205.36,337.39 206.09,335.93 206.82,334.47 207.55,335.20 208.28,333.74 209.01,333.01 209.74,333.74 210.47,335.20 211.20,336.66 211.93,337.39 212.66,338.85 213.39,338.12 214.12,335.93 214.85,332.28 215.58,327.90 216.31,331.55 217.04,334.47 217.77,330.82 218.50,330.09 219.23,333.74 219.96,335.20 220.69,333.01 221.42,330.82 222.15,329.36 222.88,328.63 223.61,331.55 224.34,333.01 225.07,330.82 225.80,332.28 226.53,333.01 227.26,327.90 227.99,327.17 228.72,324.25 229.45,323.52 230.18,326.44 230.91,330.09 231.64,332.28 232.37,328.63 233.10,324.98 233.83,322.79 234.56,322.06 235.29,325.71 236.02,327.90 236.75,329.36 237.48,328.63 238.21,330.09 238.94,331.55 239.67,330.82 240.40,329.36 241.13,327.17 241.86,330.09 242.59,330.82 243.32,328.63 244.05,327.17 244.78,325.71 245.51,330.82 246.24,337.39 246.97,341.04 247.70,339.58 248.43,337.39 249.16,338.12 249.89,339.58 250.62,341.04 251.35,341.77 252.08,339.58 252.92,335.93 253.65,336.66 254.38,334.47 255.11,336.66 255.84,335.20 256.57,337.39 257.30,334.47 258.03,335.93 258.76,333.74 259.49,335.20 260.22,332.28 260.95,334.47 261.68,333.01 262.41,335.20 263.14,333.74 263.87,334.47 264.60,332.28 265.33,335.20 266.06,333.74 266.79,333.01 267.52,334.47 268.25,335.93 268.98,337.39 269.71,335.20 270.44,333.01 271.17,331.55 271.90,333.74 272.63,332.28 273.36,330.82 274.09,329.36 274.82,330.82 275.55,333.01 276.28,331.55 277.01,333.01 277.74,330.82 278.47,329.36 279.20,330.09 279.93,331.55 280.66,334.47 281.39,336.66 282.12,335.20 282.85,333.01 283.58,334.47 284.31,335.93 285.04,333.74 285.77,335.20 286.50,334.47 287.23,333.01 287.96,332.28 288.69,324.25 289.12,335.20 289.71,335.93 290.29,341.04 290.88,344.69 291.61,342.50 292.34,336.66 293.07,339.58 293.80,341.77 294.53,343.96 295.26,339.58 295.99,327.90 296.72,325.71 297.45,330.82 298.18,325.71 298.91,332.28 299.64,335.93 300.36,329.36 301.09,328.63 301.82,330.09 302.55,331.55 303.28,333.74 304.01,332.28 304.74,330.82 305.47,331.55 306.20,333.74 306.93,334.47 307.66,335.93 308.39,337.39 309.12,336.66 309.85,335.20 310.58,334.47 311.31,333.74 312.04,334.47 312.77,333.01 313.50,333.74 314.23,334.47 314.96,333.01 315.69,334.47 316.42,335.20 317.15,336.66 317.88,335.93 318.61,334.47 319.34,335.20 320.07,334.47 320.80,335.93 321.53,334.47 322.26,333.74 322.99,335.20 323.72,333.01 324.45,334.47 325.18,333.74 325.91,331.55 326.64,333.01 327.37,334.47 328.10,335.93 328.83,337.39 329.56,335.20 330.29,333.74 331.02,331.55 331.75,329.36 332.48,331.55 333.21,333.01 333.94,334.47 334.67,335.20 335.40,334.47 336.13,333.01 336.86,336.66 337.59,335.93 338.32,334.47 339.05,333.01 339.78,332.28 340.51,333.01 341.24,331.55 341.97,334.47 342.70,336.66 343.43,334.47 344.16,333.01 344.89,335.20 345.62,333.74 346.35,331.55 347.08,333.01 347.92,335.93 348.65,333.74 349.38,334.47 350.11,333.01 350.84,335.20 351.57,333.74 352.30,334.47 353.03,333.01 353.76,334.47 354.49,331.55 355.22,330.09 355.95,333.01 356.68,331.55 357.41,332.28 358.14,330.82 358.87,333.01 359.60,335.20 360.33,336.66 361.06,334.47 361.79,333.01 362.52,331.55 363.25,332.28 363.98,333.74 364.71,335.20 365.44,336.66 366.17,335.93 366.90,334.47 367.63,333.74 368.36,333.01 369.09,332.28 369.82,331.55 370.55,332.28 371.28,330.82 372.01,331.55 372.74,330.09 373.47,330.82 374.20,333.01 374.93,333.74 375.66,330.82 376.39,333.01 377.12,331.55 377.85,333.74 378.58,332.28 379.31,333.74 380.04,333.01 380.77,331.55 381.50,333.74 382.23,332.28 382.96,330.82 383.69,335.20 384.42,331.55 385.15,330.09 385.88,333.01 386.61,330.82 387.34,332.28 388.07,331.55 388.80,330.09 389.53,327.90 390.26,331.55 390.99,333.74 391.72,330.82 392.45,331.55 393.18,330.09 393.91,330.82 394.64,333.01 395.36,329.36 396.09,326.44 396.82,324.98 397.55,327.90 398.28,330.82 399.01,328.63 399.74,329.36 400.47,330.09 401.20,328.63 401.93,329.36 402.66,327.90 403.39,328.63 404.12,330.09 404.85,333.01 405.58,330.09 406.31,329.36 407.04,330.09 407.77,330.82 408.50,332.28 409.23,331.55 409.96,333.01 410.69,334.47 411.42,332.28 412.15,330.09 412.88,328.63 413.61,331.55 414.34,330.09 415.07,329.36 415.80,330.82 416.53,329.36 417.26,328.63 417.99,327.90 418.72,329.36 419.45,327.17 420.18,326.44 420.91,324.98 421.64,327.17 422.37,328.63 423.10,326.44 423.83,324.98 424.56,322.79 425.29,324.25 426.02,326.44 426.75,324.98 427.48,324.25 428.21,322.06 428.94,318.41 429.67,324.25 430.40,331.55 431.13,338.12 431.86,346.15 432.59,352.72 433.32,354.18 434.05,348.34 434.78,341.77 435.51,335.20 436.24,330.09 436.97,327.17 437.70,329.36 438.43,331.55 439.16,333.01 439.89,333.74 440.62,334.47 441.35,333.74 442.08,333.01 442.92,331.55 443.65,333.74 444.38,332.28 445.11,333.01 445.84,334.47 446.57,332.28 447.30,335.93 448.03,333.01 448.76,331.55 449.49,329.36 450.22,325.71 450.95,324.98 451.68,327.17 452.41,329.36 453.14,326.44 453.87,325.71 454.60,324.25 455.33,326.44 456.06,328.63 456.79,330.82 457.52,333.01 458.25,335.20 458.98,336.66 459.71,334.47 460.44,332.28 461.17,330.82 461.90,331.55 462.63,330.09 463.36,329.36 464.09,330.82 464.82,332.28 465.55,332.28 466.28,333.01 467.01,332.28 467.74,333.01 468.47,332.28 469.20,333.74 469.93,334.47 470.66,333.01 471.39,331.55 472.12,330.09 472.85,327.90 473.58,326.44 474.31,324.98 475.04,329.36 475.77,327.90 476.50,330.09 477.23,327.90 477.96,330.09 478.69,331.55 479.42,333.01 480.15,332.28 480.88,333.01 481.61,335.20 482.34,335.93 483.07,336.66 483.80,337.39 484.53,338.12 485.26,335.20 485.99,333.74 486.72,330.82 487.45,327.90 488.18,326.44 488.91,333.01 489.64,335.20 490.36,331.55 491.09,329.36 491.82,325.71 492.55,324.25 493.28,326.44 494.01,328.63 494.74,330.09 495.47,332.28 496.20,331.55 496.93,329.36 497.66,330.09 498.39,330.09 499.12,332.28 499.85,335.20 500.58,337.39 501.31,335.20 502.04,333.01 502.77,331.55 503.50,330.09 504.23,328.63 504.96,331.55 505.69,333.01 506.42,331.55 507.15,332.28 507.88,331.55 508.61,330.82 509.34,329.36 510.07,328.63 510.80,330.09 511.53,333.01 512.26,331.55 512.99,330.09 513.72,327.90 514.45,326.44 515.18,325.71 515.91,327.90 516.64,330.09 517.37,332.28 518.10,334.47 518.83,333.74 519.56,332.28 520.29,330.82 521.02,330.09 521.75,329.36 522.48,331.55 523.21,330.09 523.94,331.55 524.67,330.82 525.40,332.28 526.13,331.55 526.86,333.01 527.59,332.28 528.32,330.82 529.05,328.63 529.78,327.90 530.51,329.36 531.24,327.90 531.97,328.63 532.70,330.09 533.43,332.28 534.16,330.82 534.89,332.28 535.62,333.74 536.35,334.47 537.08,335.20 537.92,336.66 538.65,338.12 539.38,338.85 540.11,336.66 540.84,333.01 541.57,329.36 542.30,335.20 543.03,336.66 543.76,334.47 544.49,330.82 545.22,324.98 545.95,324.25 546.68,325.71 547.41,327.17 548.14,330.09 548.87,328.63 549.60,330.09 550.33,327.17 551.06,329.36 551.79,330.82 552.52,327.17 553.25,330.09 553.98,332.28 554.71,331.55 555.44,330.09 556.17,328.63 556.90,330.09 557.63,329.36 558.36,328.63 559.09,330.09 559.82,328.63 560.55,329.36 561.28,331.55 562.01,333.74 562.74,334.47 563.47,333.01 564.20,330.82 564.93,328.63 565.66,326.44 566.39,324.98 567.12,323.52 567.85,324.25 568.58,322.79 569.31,324.25 570.04,319.14 570.77,318.41 571.50,329.36 572.23,339.58 572.96,349.80 573.69,352.72 574.42,346.88 575.15,338.12 575.88,331.55 576.61,327.90 577.34,328.63 578.07,330.09 578.80,330.82 579.53,329.36 580.26,327.17 580.99,324.25 581.72,322.79 582.45,323.52 583.18,322.06 583.91,321.33 584.64,320.60 585.36,318.41 586.09,322.06 586.82,327.90 587.55,324.98 588.28,330.09 589.01,331.55 589.74,333.01 590.47,335.20 591.20,335.93 591.93,337.39 592.66,338.85 593.39,341.04 594.12,343.96 594.85,340.31 595.58,338.85 596.31,337.39 597.04,336.66 597.77,338.85 598.50,338.12 599.23,337.39 599.96,335.93 600.69,336.66 601.42,334.47 602.15,330.82 602.88,327.17 603.61,324.98 604.34,328.63 605.07,334.47 605.80,333.01 606.53,330.09 607.26,327.90 607.99,328.63 608.72,329.36 609.45,328.63 610.18,327.90 610.91,329.36 611.64,328.63 612.37,327.17 613.10,329.36 613.83,331.55 614.56,333.01 615.29,334.47 616.02,335.20 616.75,335.93 617.48,336.66 617.69,336.27 618.36,338.96 619.04,336.94 619.71,336.27 620.38,334.93 621.05,334.25 621.73,334.93 622.40,333.58 623.07,334.25 623.74,335.60 624.42,334.25 625.09,332.23 625.76,331.56 626.44,332.23 627.11,330.22 627.78,330.89 628.45,328.87 629.13,327.53 629.80,325.51 630.47,324.83 631.14,325.51 631.82,324.16 632.49,324.83 633.16,324.16 633.83,323.49 634.51,324.83 635.18,327.53 635.85,332.23 636.53,334.25 637.20,334.93 637.87,336.27 638.54,337.62 639.22,336.94 639.89,338.29 640.56,337.62 641.23,338.96 641.91,339.63 642.58,338.96 643.25,337.62 643.93,336.27 644.60,336.94 645.27,340.31 645.94,344.34 646.62,345.69 647.29,341.65 647.96,334.93 648.63,334.25 649.31,329.54 649.98,325.51 650.65,324.16 651.32,324.83 652.00,322.82 652.67,322.14 653.34,326.18 654.02,331.56 654.42,333.58" fill="none" stroke="#4080bf" stroke-width="1.15" stroke-linejoin="round"/>
<rect x="36.05" y="308.1" width="647.9" height="48.6" fill="none" stroke="#333" stroke-width="1.2"/>
<line x1="65.5" y1="356.7" x2="65.5" y2="359.9" stroke="#333" stroke-width="1"/>
<text x="65.5" y="375.4" font-size="14.5" font-family="'DejaVu Sans', sans-serif" text-anchor="middle">0</text>
<line x1="360" y1="356.7" x2="360" y2="359.9" stroke="#333" stroke-width="1"/>
<text x="360" y="375.4" font-size="14.5" font-family="'DejaVu Sans', sans-serif" text-anchor="middle">10</text>
<line x1="654.5" y1="356.7" x2="654.5" y2="359.9" stroke="#333" stroke-width="1"/>
<text x="654.5" y="375.4" font-size="14.5" font-family="'DejaVu Sans', sans-serif" text-anchor="middle">20</text>
<line x1="32.85" y1="356.5" x2="36.05" y2="356.5" stroke="#333" stroke-width="1"/>
<text x="28.8" y="360.74" font-size="9.6" text-anchor="end">-5</text>
<line x1="32.85" y1="332.4" x2="36.05" y2="332.4" stroke="#333" stroke-width="1"/>
<text x="28.8" y="336.64" font-size="9.6" text-anchor="end">0</text>
<line x1="32.85" y1="308.3" x2="36.05" y2="308.3" stroke="#333" stroke-width="1"/>
<text x="28.8" y="312.54" font-size="9.6" text-anchor="end">5</text>
<text transform="translate(12.3,333.05) rotate(-90)" font-size="14.2" text-anchor="middle">y(t)</text>
<text x="265.1" y="302.1" font-size="14.6" font-weight="bold" font-family="Liberation Sans, sans-serif">(d)</text>
<text x="293.6" y="302.1" font-size="14.6">Channel index: 99</text>
<text x="359.7" y="397.0" font-size="19.5" text-anchor="middle">time(s)</text></svg>
</body></html>
